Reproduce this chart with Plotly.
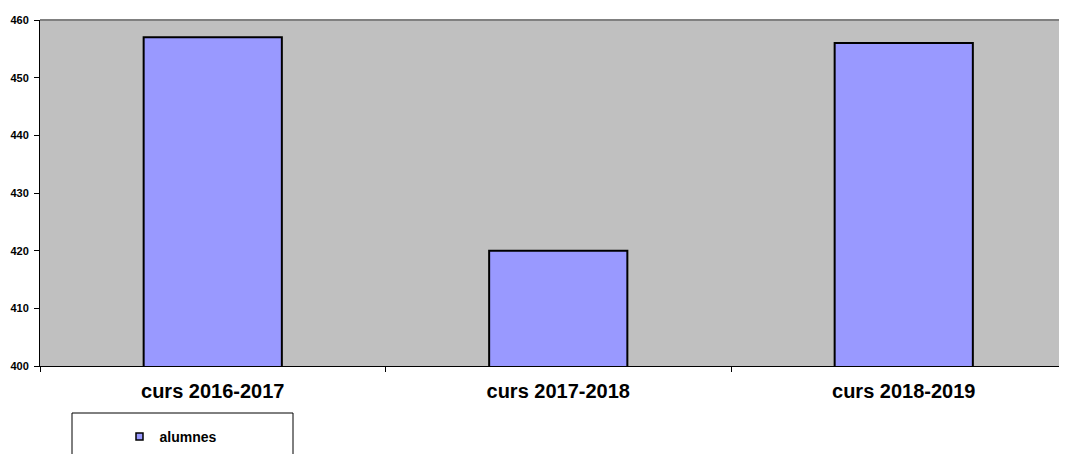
import plotly.graph_objects as go

categories = ["curs 2016-2017", "curs 2017-2018", "curs 2018-2019"]
alumnes = [457, 420, 456]
y_ticks = [400, 410, 420, 430, 440, 450, 460]

# page body has an 8px margin; layout numbers below are in page pixels
OFF = 8
W, H = 1067 - OFF, 454 - OFF
PL, PT, PB = 40, 20, 366           # plot area left/top/bottom in page px
L, T = PL - OFF, PT - OFF
B = H - (PB - OFF)
pw = W - L
ph = PB - PT

def px(x):
    return (x - PL) / pw

def py(y):
    return (PB - y) / ph

fig = go.Figure()
fig.add_trace(go.Bar(
    x=categories, y=alumnes, name="alumnes",
    width=0.4,
    marker=dict(color="#9999FF", line=dict(color="#000000", width=2)),
    showlegend=False,
))
fig.add_trace(go.Scatter(
    x=[None], y=[None], mode="markers", name="alumnes",
    marker=dict(symbol="square", size=7, color="#9999FF",
                line=dict(color="#000000", width=1.5)),
    showlegend=True,
))

font_b = dict(family="Arial, Liberation Sans, sans-serif", color="#000000", weight="bold")

fig.update_layout(
    width=W, height=H,
    margin=dict(l=L, r=0, t=T, b=B, pad=0),
    paper_bgcolor="#FFFFFF",
    plot_bgcolor="#C0C0C0",
    showlegend=True,
    legend=dict(
        x=px(171), y=py(437), xanchor="center", yanchor="middle",
        font=dict(size=14, **font_b),
        bgcolor="rgba(0,0,0,0)", borderwidth=0,
        itemwidth=30,
    ),
    xaxis=dict(
        type="category", range=[-0.5, 2.4725],
        showline=True, linecolor="#000000", linewidth=1,
        ticks="outside", tickson="boundaries", ticklen=5, tickcolor="#000000",
        tickfont=dict(size=20, **font_b), ticklabelstandoff=7,
        showgrid=False, zeroline=False,
    ),
    yaxis=dict(
        range=[400, 460], tickvals=y_ticks,
        showline=True, linecolor="#000000", linewidth=1,
        ticks="outside", ticklen=5, tickcolor="#000000",
        tickfont=dict(size=11, **font_b), ticklabelstandoff=3,
        showgrid=False, zeroline=False,
    ),
    shapes=[
        dict(type="line", xref="paper", yref="paper", x0=0, x1=1, y0=1, y1=1,
             line=dict(color="#808080", width=2)),
        dict(type="rect", xref="paper", yref="paper",
             x0=px(72), x1=px(293), y0=py(470), y1=py(413),
             line=dict(color="#000000", width=1), fillcolor="rgba(0,0,0,0)"),
    ],
)

fig.write_html("out.html")
